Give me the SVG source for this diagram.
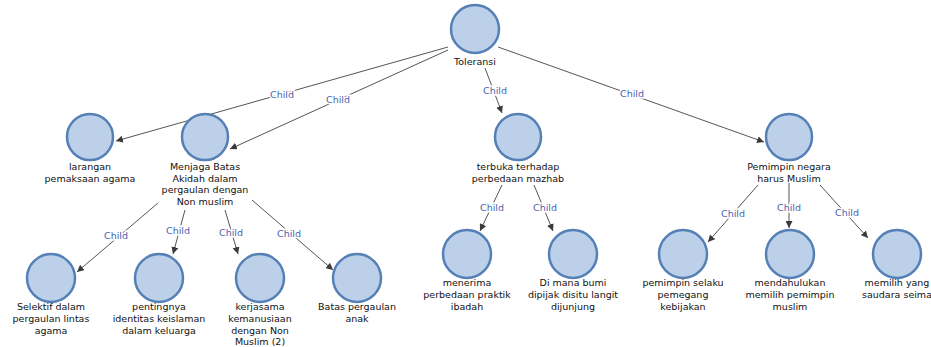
<svg xmlns="http://www.w3.org/2000/svg" width="931" height="347" viewBox="0 0 931 347">
<style>
.n{fill:#bdd0e9;stroke:#5580b6;stroke-width:2.5}
.t{font-family:"DejaVu Sans",sans-serif;font-size:9.5px;fill:#111;text-anchor:middle}
.e{stroke:#555;stroke-width:1;fill:none;marker-end:url(#a)}
.l{font-family:"DejaVu Sans",sans-serif;font-size:9.5px;fill:#4b5fb0;text-anchor:middle;stroke:#fff;stroke-width:3;paint-order:stroke}
</style>
<defs>
<marker id="a" viewBox="0 0 10 10" refX="10" refY="5" markerWidth="7" markerHeight="7" orient="auto" markerUnits="userSpaceOnUse">
<path d="M0,0 L10,5 L0,10 z" fill="#3a3a3a"/>
</marker>
</defs>
<rect width="931" height="347" fill="#fff"/>
<g id="connectors">
<line class="e" x1="448" y1="47" x2="116" y2="141"/>
<line class="e" x1="448" y1="50" x2="230" y2="149"/>
<line class="e" x1="485" y1="68" x2="502" y2="113"/>
<line class="e" x1="498" y1="47" x2="764" y2="142"/>
<line class="e" x1="158" y1="203" x2="77" y2="272"/>
<line class="e" x1="185" y1="210" x2="173" y2="254"/>
<line class="e" x1="225" y1="210" x2="238" y2="254"/>
<line class="e" x1="252" y1="200" x2="333" y2="270"/>
<line class="e" x1="502" y1="185" x2="480" y2="231"/>
<line class="e" x1="534" y1="185" x2="553" y2="231"/>
<line class="e" x1="758" y1="185" x2="708" y2="242"/>
<line class="e" x1="789" y1="183" x2="789" y2="228"/>
<line class="e" x1="820" y1="185" x2="868" y2="238"/>
<text class="l" x="282" y="98">Child</text>
<text class="l" x="338" y="103">Child</text>
<text class="l" x="495" y="94">Child</text>
<text class="l" x="632" y="97">Child</text>
<text class="l" x="116" y="239">Child</text>
<text class="l" x="178" y="234">Child</text>
<text class="l" x="231" y="236">Child</text>
<text class="l" x="289" y="237">Child</text>
<text class="l" x="492" y="211">Child</text>
<text class="l" x="545" y="211">Child</text>
<text class="l" x="733" y="217">Child</text>
<text class="l" x="789" y="211">Child</text>
<text class="l" x="847" y="216">Child</text>
</g>
<g id="root">
<circle class="n" cx="475" cy="29" r="24"/>
<text class="t" x="475" y="65" style="stroke:#fff;stroke-width:3;paint-order:stroke">Toleransi</text>
</g>
<g id="larangan">
<circle class="n" cx="90" cy="137" r="23"/>
<text class="t" x="90" y="170">larangan</text>
<text class="t" x="90" y="181.5">pemaksaan agama</text>
</g>
<g id="menjaga">
<circle class="n" cx="205" cy="137" r="23"/>
<text class="t" x="205" y="170">Menjaga Batas</text>
<text class="t" x="205" y="181.5">Akidah dalam</text>
<text class="t" x="205" y="193">pergaulan dengan</text>
<text class="t" x="205" y="204.5">Non muslim</text>
</g>
<g id="terbuka">
<circle class="n" cx="518" cy="137" r="23"/>
<text class="t" x="518" y="170">terbuka terhadap</text>
<text class="t" x="518" y="181.5">perbedaan mazhab</text>
</g>
<g id="pemimpin-negara">
<circle class="n" cx="789" cy="137" r="23"/>
<text class="t" x="789" y="170">Pemimpin negara</text>
<text class="t" x="789" y="181.5">harus Muslim</text>
</g>
<g id="selektif">
<circle class="n" cx="51" cy="278" r="24"/>
<text class="t" x="51" y="310">Selektif dalam</text>
<text class="t" x="51" y="322">pergaulan lintas</text>
<text class="t" x="51" y="334">agama</text>
</g>
<g id="pentingnya">
<circle class="n" cx="159" cy="278" r="24"/>
<text class="t" x="159" y="310">pentingnya</text>
<text class="t" x="159" y="322">identitas keislaman</text>
<text class="t" x="159" y="334">dalam keluarga</text>
</g>
<g id="kerjasama">
<circle class="n" cx="260" cy="278" r="24"/>
<text class="t" x="260" y="310">kerjasama</text>
<text class="t" x="260" y="322">kemanusiaan</text>
<text class="t" x="260" y="334">dengan Non</text>
<text class="t" x="260" y="345">Muslim (2)</text>
</g>
<g id="batas">
<circle class="n" cx="357" cy="278" r="24"/>
<text class="t" x="357" y="310">Batas pergaulan</text>
<text class="t" x="357" y="322">anak</text>
</g>
<g id="menerima">
<circle class="n" cx="467" cy="254" r="24"/>
<text class="t" x="467" y="286">menerima</text>
<text class="t" x="467" y="298">perbedaan praktik</text>
<text class="t" x="467" y="310">ibadah</text>
</g>
<g id="dimana">
<circle class="n" cx="573" cy="254" r="24"/>
<text class="t" x="573" y="286">Di mana bumi</text>
<text class="t" x="573" y="298">dipijak disitu langit</text>
<text class="t" x="573" y="310">dijunjung</text>
</g>
<g id="pemimpin-selaku">
<circle class="n" cx="683" cy="254" r="24"/>
<text class="t" x="683" y="286">pemimpin selaku</text>
<text class="t" x="683" y="298">pemegang</text>
<text class="t" x="683" y="310">kebijakan</text>
</g>
<g id="mendahulukan">
<circle class="n" cx="790" cy="254" r="24"/>
<text class="t" x="790" y="286">mendahulukan</text>
<text class="t" x="790" y="298">memilih pemimpin</text>
<text class="t" x="790" y="310">muslim</text>
</g>
<g id="memilih">
<circle class="n" cx="897" cy="254" r="24"/>
<text class="t" x="897" y="286">memilih yang</text>
<text class="t" x="897" y="298">saudara seima</text>
</g>
</svg>
